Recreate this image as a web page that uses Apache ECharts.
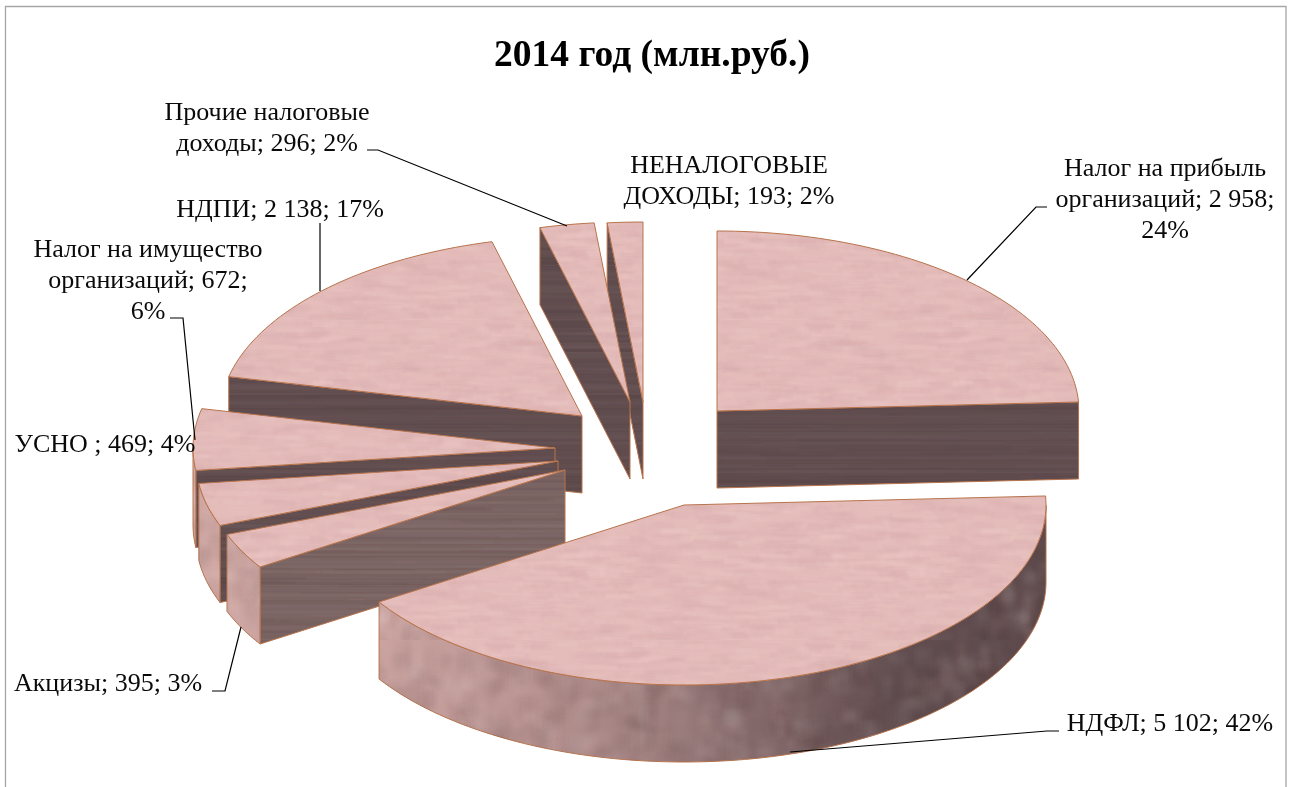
<!DOCTYPE html>
<html lang="ru">
<head>
<meta charset="utf-8">
<style>html,body{margin:0;padding:0;background:#fff}#c{width:1290px;height:787px}</style>
<script src="https://cdn.jsdelivr.net/npm/echarts@6/dist/echarts.min.js"></script>
</head>
<body>
<div id="c"></div>
<script>
// --- data ---
const titleText = '2014 год (млн.руб.)';
const categories = ['Налог на прибыль организаций','НДФЛ','Акцизы','УСНО','Налог на имущество организаций','НДПИ','Прочие налоговые доходы','НЕНАЛОГОВЫЕ ДОХОДЫ'];
const values = [2958,5102,395,469,672,2138,296,193];
const labelTexts = [
  'Налог на прибыль\nорганизаций; 2 958;\n24%',
  'НДФЛ; 5 102; 42%',
  'Акцизы; 395; 3%',
  'УСНО ; 469; 4%',
  'Налог на имущество\nорганизаций; 672;\n6%',
  'НДПИ; 2 138; 17%',
  'Прочие налоговые\nдоходы; 296; 2%',
  'НЕНАЛОГОВЫЕ\nДОХОДЫ; 193; 2%'
];

// --- layout (exploded slices) ---
const RX = 362, RY = 180, DEPTH = 77;
const apexX = [717,684,565,558,555,582,630,643];
const apexY = [411,505,470,461,448,416,402,402];
const drawOrder = [2,7,6,5,4,3,1,0]; // painter's rank per slice, back to front
const midFace = [false,false,true,false,false,false,false,false];
const labelX = [1165,1170,108,105,148,280,267,729];
const labelY = [200.5,724.5,684.5,445.5,281.5,210.5,129,182];
const leaders = [
  [[1047,207],[1036,207],[967,280]],
  [[1059,731],[1047,731],[790,752]],
  [[212,691],[225,691],[241,627]],
  null,
  [[170,318],[183,318],[195,440]],
  [[320,223],[320,291]],
  [[367,150],[378,150],[567,226]],
  null
];

// --- textures (deterministic) ---
function makeTexture(base, tints, n, w, h, alpha, blur) {
  const cv = document.createElement('canvas');
  cv.width = 320; cv.height = 320;
  const g = cv.getContext('2d');
  if (base) { g.fillStyle = base; g.fillRect(0,0,320,320); }
  if (blur) g.filter = 'blur(' + blur + 'px)';
  let s = 12345;
  const next = () => (s = (s * 1103515245 + 12345) & 0x7fffffff) / 0x7fffffff;
  for (let i = 0; i < n; i++) {
    g.globalAlpha = alpha * (0.4 + 0.6 * next());
    g.fillStyle = tints[Math.floor(next() * tints.length) % tints.length];
    const bw = w * (0.5 + next()), bh = h * (0.5 + next());
    const x = next() * 320, y = next() * 320;
    g.fillRect(x, y, bw, bh);
    if (x + bw > 320) g.fillRect(x - 320, y, bw, bh);
  }
  return {image: cv, repeat: 'repeat'};
}
const topFill = makeTexture('#e4bcba', ['#f0cdca','#d8abad','#ecc6c2','#d9aeb0'], 1800, 24, 4, 0.28, 1.2);
const darkFill = makeTexture('#624e50', ['#6a5658','#5a4749','#5e4b4d','#6c5859'], 500, 320, 2.5, 0.35, 0.6);
const midFill = makeTexture('#78625f', ['#826c6d','#6e5758','#7d6665','#86706f'], 500, 320, 2.5, 0.35, 0.6);
const rimNoise = makeTexture(null, ['#ffffff','#3a2a2a','#e9c8c4','#5a4040'], 900, 14, 18, 0.07, 3);
const EDGE = '#b8744c';

function toXY(i, deg, drop) {
  const r = deg * Math.PI / 180;
  return [apexX[i] + RX * Math.sin(r), apexY[i] - RY * Math.cos(r) + drop];
}
function arcPts(i, a, b, drop) {
  const pts = [], n = Math.max(2, Math.ceil(Math.abs(b - a) / 1.5));
  for (let k = 0; k <= n; k++) pts.push(toXY(i, a + (b - a) * k / n, drop));
  return pts;
}
const total = values.reduce((s, v) => s + v, 0);

function renderSlice(params, api) {
  const i = params.dataIndex;
  let before = 0;
  for (let k = 0; k < i; k++) before += values[k];
  const a = before / total * 360;
  const b = a + api.value(0) / total * 360;
  const z = drawOrder[i] * 10;
  const ch = [];
  const face = deg => {
    const p = toXY(i, deg, 0);
    const q = toXY(i, deg, DEPTH);
    return [[apexX[i], apexY[i]], p, q, [apexX[i], apexY[i] + DEPTH]];
  };
  const faceStyle = {fill: midFace[i] ? midFill : darkFill, stroke: EDGE, lineWidth: 1};
  if (Math.sin(a * Math.PI / 180) < -1e-6) ch.push({type:'polygon', z2:z, shape:{points:face(a)}, style:faceStyle});
  if (Math.sin(b * Math.PI / 180) > 1e-6) ch.push({type:'polygon', z2:z+1, shape:{points:face(b)}, style:faceStyle});
  const ra = Math.max(a, 90), rb = Math.min(b, 270);
  if (ra < rb) {
    const pts = arcPts(i, ra, rb, 0).concat(arcPts(i, rb, ra, DEPTH));
    ch.push({type:'polygon', z2:z+2, shape:{points:pts}, style:{
      fill:{type:'linear', global:true, x:apexX[i]-RX, y:0, x2:apexX[i]+RX, y2:0, colorStops:[
        {offset:0,color:'#d2aaa6'},{offset:0.3,color:'#b89391'},{offset:0.55,color:'#8e7172'},{offset:0.8,color:'#614d4f'},{offset:1,color:'#5e4a4c'}]},
      stroke: EDGE, lineWidth: 1}});
    ch.push({type:'polygon', z2:z+3, shape:{points:pts}, style:{fill:rimNoise}});
  }
  const top = [[apexX[i], apexY[i]]].concat(arcPts(i, a, b, 0));
  ch.push({type:'polygon', z2:z+4, shape:{points:top}, style:{fill:topFill, stroke:EDGE, lineWidth:1}});
  return {type:'group', children:ch};
}

function renderLabel(params, api) {
  const i = params.dataIndex;
  const ch = [{type:'text', z2:2, style:{text:labelTexts[i], x:labelX[i], y:labelY[i], align:'center', verticalAlign:'middle',
    fontFamily:'"Liberation Serif"', fontSize:26, lineHeight:31, fill:'#0a0a0a'}}];
  if (leaders[i]) ch.push({type:'polyline', z2:1, shape:{points:leaders[i]}, style:{fill:null, stroke:'#000', lineWidth:1.2}});
  return {type:'group', children:ch};
}

const chart = echarts.init(document.getElementById('c'), null, {width:1290, height:787});
chart.setOption({
  animation:false,
  backgroundColor:'#fff',
  title:{text:titleText, left:647, top:32, textAlign:'center',
    textStyle:{fontFamily:'"Liberation Serif"', fontWeight:'bold', fontSize:37.5, color:'#000'}},
  graphic:[{type:'rect', silent:true, z:0, shape:{x:5.5,y:6.5,width:1280.5,height:800}, style:{fill:null, stroke:'#a6a6a6', lineWidth:1.3}}],
  series:[
    {type:'custom', coordinateSystem:'none', name:'2014', silent:true, z:2, renderItem:renderSlice,
     data:categories.map((n, i) => ({name:n, value:values[i]}))},
    {type:'custom', coordinateSystem:'none', name:'labels', silent:true, z:3, renderItem:renderLabel,
     data:categories.map((n, i) => ({name:n, value:values[i]}))}
  ]
});
</script>
</body>
</html>
